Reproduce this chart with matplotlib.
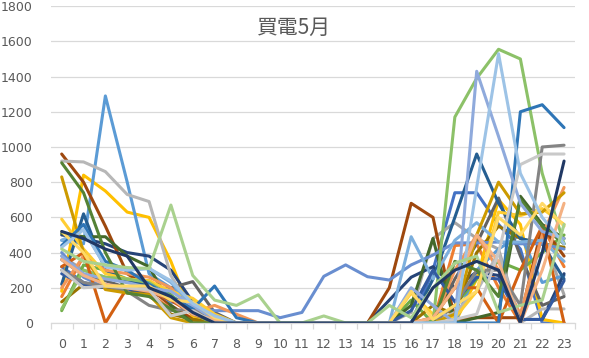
import matplotlib
matplotlib.use("Agg")
import matplotlib.pyplot as plt
from matplotlib.ticker import MultipleLocator, FixedLocator

hours = list(range(24))

d01 = [320, 230, 200, 200, 190, 150, 90, 30, 0, 0, 0, 0, 0, 0, 0, 0, 0, 300, 740, 740, 560, 420, 0, 0]
d02 = [150, 380, 200, 190, 170, 80, 30, 0, 0, 0, 0, 0, 0, 0, 0, 0, 0, 0, 440, 450, 200, 0, 550, 320]
d03 = [380, 300, 260, 230, 220, 150, 80, 20, 0, 0, 0, 0, 0, 0, 0, 0, 60, 480, 570, 480, 420, 0, 500, 160]
d04 = [180, 840, 750, 630, 600, 350, 30, 0, 0, 0, 0, 0, 0, 0, 0, 0, 0, 0, 0, 250, 700, 560, 20, 0]
d05 = [470, 450, 1290, 800, 280, 200, 130, 40, 0, 0, 0, 0, 0, 0, 0, 0, 0, 0, 0, 300, 420, 500, 230, 270]
d06 = [70, 330, 300, 250, 240, 160, 60, 10, 0, 0, 0, 0, 0, 0, 0, 0, 130, 0, 100, 250, 350, 300, 400, 500]
d07 = [500, 480, 450, 400, 380, 300, 120, 20, 0, 0, 0, 0, 0, 0, 0, 130, 260, 320, 200, 290, 270, 20, 20, 280]
d08 = [960, 800, 550, 280, 200, 100, 20, 0, 0, 0, 0, 0, 0, 0, 0, 200, 680, 600, 20, 30, 30, 30, 550, 380]
d09 = [360, 270, 240, 200, 190, 200, 235, 60, 0, 0, 0, 0, 0, 0, 0, 0, 0, 0, 250, 450, 710, 380, 100, 150]
d10 = [120, 220, 200, 190, 160, 50, 20, 0, 0, 0, 0, 0, 0, 0, 0, 0, 0, 100, 50, 400, 550, 480, 450, 430]
d11 = [220, 620, 300, 240, 210, 180, 120, 30, 0, 0, 0, 0, 0, 0, 0, 0, 0, 250, 600, 960, 680, 480, 450, 250]
d12 = [510, 490, 490, 380, 320, 100, 0, 0, 0, 0, 0, 0, 0, 0, 0, 0, 100, 480, 0, 30, 60, 720, 560, 480]
d13 = [400, 260, 200, 190, 200, 120, 90, 70, 70, 70, 30, 60, 265, 330, 263, 244, 330, 386, 455, 455, 460, 450, 450, 420]
d14 = [200, 380, 300, 280, 260, 200, 60, 100, 50, 0, 0, 0, 0, 0, 0, 0, 0, 0, 300, 500, 300, 50, 500, 770]
d15 = [920, 915, 860, 730, 690, 270, 60, 0, 0, 0, 0, 0, 0, 0, 0, 0, 0, 0, 60, 180, 400, 0, 80, 80]
d16 = [590, 420, 280, 250, 240, 180, 140, 50, 0, 0, 0, 0, 0, 0, 0, 0, 170, 50, 30, 180, 630, 610, 650, 560]
d17 = [470, 530, 320, 300, 310, 230, 100, 40, 0, 0, 0, 0, 0, 0, 0, 0, 490, 250, 470, 570, 460, 460, 470, 350]
d18 = [80, 300, 260, 250, 230, 150, 50, 0, 0, 0, 0, 0, 0, 0, 0, 0, 0, 0, 1170, 1390, 1555, 1500, 850, 450]
d19 = [280, 220, 200, 190, 180, 130, 60, 0, 0, 0, 0, 0, 0, 0, 0, 0, 70, 300, 120, 260, 250, 20, 20, 240]
d20 = [320, 400, 0, 200, 180, 130, 50, 10, 0, 0, 0, 0, 0, 0, 0, 0, 0, 30, 200, 200, 0, 300, 550, 0]
d21 = [300, 230, 210, 180, 100, 70, 80, 0, 0, 0, 0, 0, 0, 0, 0, 0, 0, 0, 100, 300, 300, 100, 1000, 1010]
d22 = [830, 400, 190, 170, 160, 30, 0, 0, 0, 0, 0, 0, 0, 0, 0, 0, 0, 0, 50, 500, 800, 620, 630, 740]
d23 = [440, 560, 350, 300, 220, 150, 80, 210, 30, 0, 0, 0, 0, 0, 0, 0, 0, 0, 0, 0, 0, 1200, 1240, 1110]
d24 = [910, 740, 400, 170, 150, 80, 0, 0, 0, 0, 0, 0, 0, 0, 0, 0, 0, 0, 350, 300, 150, 700, 550, 450]
d25 = [380, 280, 250, 230, 200, 180, 100, 20, 0, 0, 0, 0, 0, 0, 0, 0, 200, 100, 0, 1430, 1060, 680, 520, 480]
d26 = [360, 270, 220, 200, 180, 140, 50, 20, 0, 0, 0, 0, 0, 0, 0, 0, 0, 30, 200, 500, 350, 0, 300, 680]
d27 = [300, 200, 210, 200, 190, 40, 70, 0, 0, 0, 0, 0, 0, 0, 0, 0, 0, 0, 20, 50, 400, 900, 960, 960]
d28 = [520, 400, 210, 210, 210, 130, 120, 30, 0, 0, 0, 0, 0, 0, 0, 0, 180, 20, 100, 180, 600, 500, 680, 550]
d29 = [430, 530, 320, 300, 310, 240, 110, 40, 0, 0, 0, 0, 0, 0, 0, 0, 0, 0, 0, 770, 1530, 850, 600, 450]
d30 = [420, 350, 330, 315, 310, 670, 270, 130, 100, 160, 0, 0, 40, 0, 0, 100, 30, 200, 340, 380, 60, 100, 130, 560]
d31 = [520, 480, 420, 380, 200, 150, 60, 0, 0, 0, 0, 0, 0, 0, 0, 0, 0, 200, 300, 350, 300, 0, 400, 920]

series = [d01, d02, d03, d04, d05, d06, d07, d08, d09, d10, d11, d12, d13, d14, d15, d16,
          d17, d18, d19, d20, d21, d22, d23, d24, d25, d26, d27, d28, d29, d30, d31]

colors = ['#4472C4', '#ED7D31', '#A5A5A5', '#FFC000', '#5B9BD5', '#70AD47',
          '#264478', '#9E480E', '#636363', '#997300', '#255E91', '#43682B',
          '#698ED0', '#F1975A', '#B7B7B7', '#FFCD33', '#7CAFDD', '#8CC168',
          '#335AA1', '#D26012', '#848484', '#CC9A00', '#2E75B6', '#548235',
          '#8FAADC', '#F4B183', '#C9C9C9', '#FFD966', '#9DC3E6', '#A9D18E',
          '#203864']

title = "買電5月"
yticks = list(range(0, 1801, 200))

fig = plt.figure(figsize=(5.89, 3.58), dpi=100)
ax = fig.add_axes([0.0862, 0.0978, 0.890, 0.885])

for vals, c in zip(series, colors):
    ax.plot(hours, vals, color=c, lw=2.2, solid_joinstyle='round', solid_capstyle='round')

ax.set_xlim(-0.5, 23.5)
ax.set_ylim(0, 1800)
ax.set_yticks(yticks)
ax.set_xticks(hours)
ax.xaxis.set_minor_locator(FixedLocator([h - 0.5 for h in hours] + [23.5]))
ax.grid(axis='y', color='#D9D9D9', lw=0.9)
ax.set_axisbelow(True)
for s in ['top', 'right', 'left']:
    ax.spines[s].set_visible(False)
ax.spines['bottom'].set_color('#D9D9D9')
ax.spines['bottom'].set_linewidth(0.9)
ax.tick_params(axis='y', length=0, pad=13, labelsize=9, labelcolor='#595959')
ax.tick_params(axis='x', which='major', length=0, pad=11, labelsize=9, labelcolor='#595959')
ax.tick_params(axis='x', which='minor', length=4, color='#D9D9D9', width=0.9)

fig.text(0.50, 0.922, title, ha='center', va='center', fontsize=15, color='#595959',
         family=['Noto Sans CJK JP', 'DejaVu Sans'])

fig.savefig('out.png', dpi=100)
